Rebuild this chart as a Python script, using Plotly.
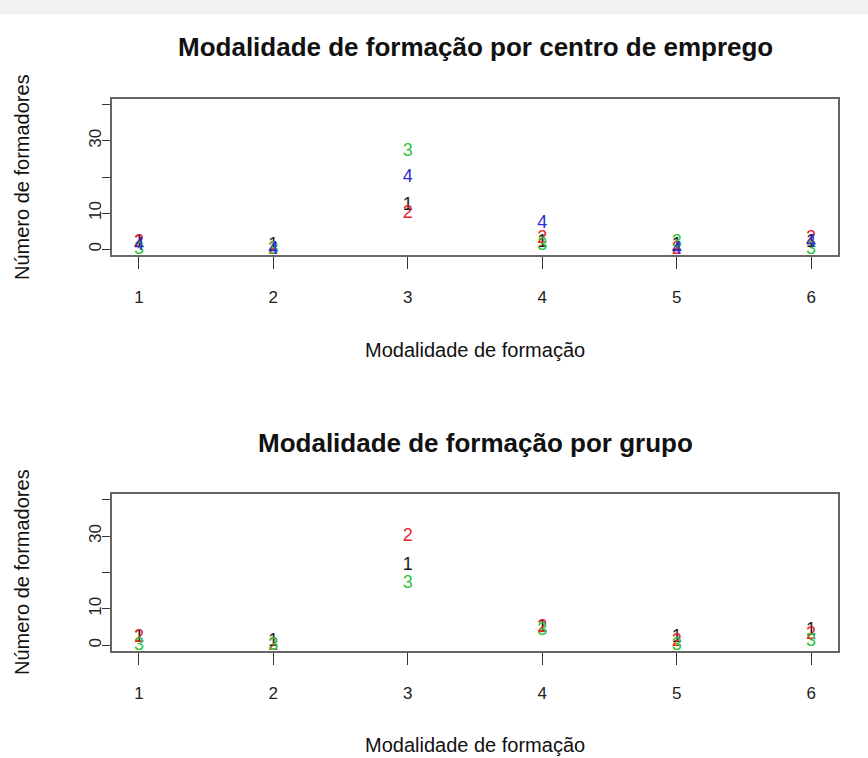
import plotly.graph_objects as go

x_vals = [1, 2, 3, 4, 5, 6]
x_ticks = [1, 2, 3, 4, 5, 6]
y_ticks = [0, 10, 20, 30, 40]
y_ticktext = ["0", "10", "", "30", ""]

# Top chart: by employment centre (series 1..4)
top_labels = ["1", "2", "3", "4"]
top_s1 = [2, 1, 12, 2, 1, 2]
top_s2 = [2, 0, 10, 3, 0, 3]
top_s3 = [0, 0, 27, 1, 2, 0]
top_s4 = [1, 0, 20, 7, 0, 2]

# Bottom chart: by group (series 1..3)
bot_labels = ["1", "2", "3"]
bot_s1 = [2, 1, 22, 5, 2, 4]
bot_s2 = [2, 0, 30, 5, 1, 3]
bot_s3 = [0, 0, 17, 4, 0, 1]

colors = ["#1a1a1a", "#e3262e", "#33c43a", "#2b2bd6"]

title_top = "Modalidade de formação por centro de emprego"
title_bot = "Modalidade de formação por grupo"
x_title = "Modalidade de formação"
y_title = "Número de formadores"

FONT = "Liberation Sans, Arial, sans-serif"
W, H = 868, 758

fig = go.Figure()

for i, s in enumerate([top_s1, top_s2, top_s3, top_s4]):
    fig.add_trace(go.Scatter(x=x_vals, y=s, mode="text", text=[top_labels[i]] * len(s),
                             textfont=dict(family=FONT, size=18, color=colors[i]),
                             xaxis="x", yaxis="y", showlegend=False, hoverinfo="skip"))
for i, s in enumerate([bot_s1, bot_s2, bot_s3]):
    fig.add_trace(go.Scatter(x=x_vals, y=s, mode="text", text=[bot_labels[i]] * len(s),
                             textfont=dict(family=FONT, size=18, color=colors[i]),
                             xaxis="x2", yaxis="y2", showlegend=False, hoverinfo="skip"))

# plot boxes in pixels
L, R = 112, 838
top_box = (99, 255)
bot_box = (494, 651)

def ydom(box):
    return [1 - box[1] / H, 1 - box[0] / H]

xdom = [L / W, R / W]

axis_common = dict(showline=True, mirror=True, linecolor="#666666", linewidth=1.5,
                   showgrid=False, zeroline=False, ticks="outside", tickcolor="#333333",
                   tickfont=dict(family=FONT, size=17, color="#222222"))

xaxis_cfg = dict(axis_common, range=[0.8, 6.2], tickvals=x_ticks,
                 ticktext=[str(v) for v in x_ticks], ticklen=12, ticklabelstandoff=14)
yaxis_cfg = dict(axis_common, range=[-1.6, 41.6], tickvals=y_ticks, ticktext=y_ticktext,
                 ticklen=8, tickangle=-90, ticklabelstandoff=-6)

fig.update_layout(
    width=W, height=H,
    margin=dict(l=0, r=0, t=0, b=0),
    paper_bgcolor="white", plot_bgcolor="white",
    xaxis=dict(xaxis_cfg, domain=xdom, anchor="y"),
    yaxis=dict(yaxis_cfg, domain=ydom(top_box), anchor="x"),
    xaxis2=dict(xaxis_cfg, domain=xdom, anchor="y2"),
    yaxis2=dict(yaxis_cfg, domain=ydom(bot_box), anchor="x2"),
)

cx = (L + R) / 2 / W

def ann(text, x, y, size, bold=False, angle=0):
    return dict(text=("<b>%s</b>" % text) if bold else text, x=x, y=1 - y / H,
                xref="paper", yref="paper", showarrow=False, textangle=angle,
                xanchor="center", yanchor="middle",
                font=dict(family=FONT, size=size, color="#111111"))

fig.update_layout(annotations=[
    ann(title_top, cx, 47, 26, bold=True),
    ann(title_bot, cx, 443, 26, bold=True),
    ann(x_title, cx, 350, 20),
    ann(x_title, cx, 745, 20),
    ann(y_title, 22 / W, 177, 20, angle=-90),
    ann(y_title, 22 / W, 572, 20, angle=-90),
])

fig.add_shape(type="rect", xref="paper", yref="paper", x0=0, x1=1,
              y0=1 - 14 / H, y1=1, fillcolor="#f2f2f2", line=dict(width=0), layer="below")

fig.write_html("out.html", config={"displayModeBar": False},
               post_script="document.body.style.margin='0';document.body.style.overflow='hidden';")
